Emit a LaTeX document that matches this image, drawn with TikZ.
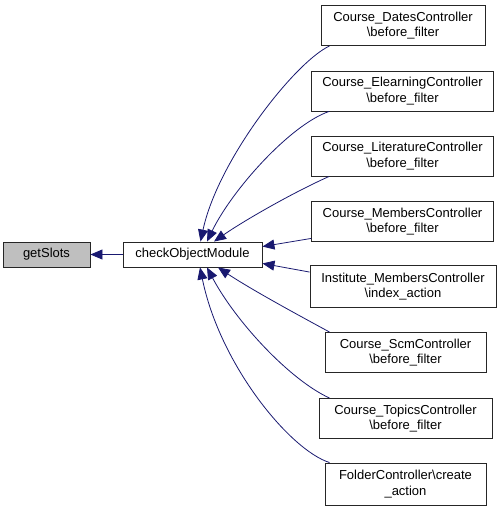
\documentclass[tikz,border=0pt]{standalone}
\usepackage{fontspec}
\setmainfont{Liberation Sans}
\usetikzlibrary{arrows.meta}
\definecolor{edgeblue}{RGB}{25,25,112}
\definecolor{hilite}{RGB}{191,191,191}
\tikzset{
  fn/.style={draw=black!85, line width=0.9pt, fill=white, inner sep=0pt, align=center,
    font=\fontsize{13}{15.5}\selectfont, minimum height=40pt},
  edge/.style={draw=edgeblue, line width=0.8pt, -{Triangle[length=12pt,width=10pt]}},
}
\begin{document}
\begin{tikzpicture}[x=1pt,y=-1pt]
\useasboundingbox (0,0) rectangle (501,509);
\node[fn, fill=hilite, minimum width=87pt, minimum height=25pt] (gs) at (46.5,254.5) {getSlots};
\node[fn, minimum width=139pt, minimum height=25pt] (cm) at (192.5,254.5) {checkObjectModule};
\node[fn, minimum width=164pt] (d1) at (403,25.5) {Course\_DatesController\\\textbackslash before\_filter};
\node[fn, minimum width=182pt] (d2) at (402.5,91) {Course\_ElearningController\\\textbackslash before\_filter};
\node[fn, minimum width=182pt] (d3) at (402.5,156) {Course\_LiteratureController\\\textbackslash before\_filter};
\node[fn, minimum width=182pt] (d4) at (402.5,221.5) {Course\_MembersController\\\textbackslash before\_filter};
\node[fn, minimum width=186pt, minimum height=42pt] (d5) at (403,286.5) {Institute\_MembersController\\\textbackslash index\_action};
\node[fn, minimum width=161pt] (d6) at (405.5,352.5) {Course\_ScmController\\\textbackslash before\_filter};
\node[fn, minimum width=173pt] (d7) at (405.5,418.5) {Course\_TopicsController\\\textbackslash before\_filter};
\node[fn, minimum width=161pt, minimum height=42pt] (d8) at (405.5,484) {FolderController\textbackslash create\\\_action};

\draw[edge] (cm.west) -- (gs.east);
\draw[edge] ([xshift=9pt]d1.south west) .. controls (295,62) and (218,160) .. ([xshift=8pt]cm.north);
\draw[edge] ([xshift=18pt]d2.south west) .. controls (290,125) and (232,190) .. ([xshift=14.5pt]cm.north);
\draw[edge] ([xshift=18pt]d3.south west) .. controls (290,194) and (242,222) .. ([xshift=21.5pt]cm.north);
\draw[edge] ([yshift=3.5pt]d4.south west) -- ([yshift=-5pt]cm.north east);
\draw[edge] ([yshift=-7pt]d5.north west) -- ([yshift=4pt]cm.south east);
\draw[edge] ([xshift=5pt]d6.north west) .. controls (300,316) and (252,290) .. ([xshift=25.5pt]cm.south);
\draw[edge] ([xshift=11pt]d7.north west) .. controls (290,380) and (236,322) .. ([xshift=14.5pt]cm.south);
\draw[edge] ([xshift=5pt]d8.north west) .. controls (290,450) and (220,365) .. ([xshift=7.5pt]cm.south);
\end{tikzpicture}
\end{document}
